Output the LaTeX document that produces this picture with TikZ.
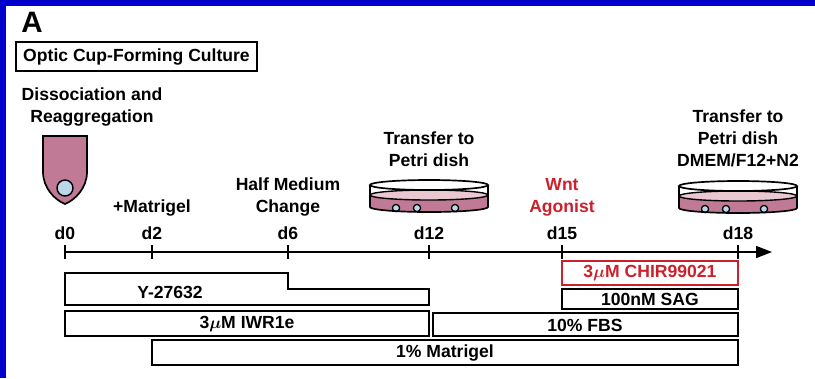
\documentclass[tikz,border=0pt]{standalone}
\usepackage{fontspec}
\setmainfont{Liberation Sans}
\usetikzlibrary{arrows.meta,positioning}
\definecolor{frameblue}{RGB}{0,0,204}
\definecolor{tissue}{RGB}{192,122,150}
\definecolor{medium}{RGB}{234,200,210}
\definecolor{cellblue}{RGB}{188,214,234}
\definecolor{wntred}{RGB}{204,32,44}

\tikzset{
  lbl/.style={font=\fontsize{12.5}{15.6}\selectfont\bfseries\boldmath, align=center, inner sep=0pt},
  bar/.style={draw, line width=1.3pt},
  dish/.pic={
    % side of the medium, then its surface
    \fill[tissue] (-59,10) -- (-59,22) arc[start angle=180, end angle=0, x radius=59, y radius=5] -- (59,10) -- cycle;
    \draw[line width=1pt, fill=medium] (0,10) ellipse (59 and 5);
    % cells resting on the bottom
    \foreach \cx in {-33,-12,26} \draw[line width=0.9pt, fill=cellblue] (\cx,23) circle (3.6);
    % wall and rim
    \draw[line width=1.2pt] (-59,0) -- (-59,22) arc[start angle=180, end angle=0, x radius=59, y radius=5] -- (59,0);
    \draw[line width=1.2pt] (0,0) ellipse (59 and 5);
  }
}

\begin{document}
\begin{tikzpicture}[x=0.025cm, y=-0.025cm]
\useasboundingbox (0,0) rectangle (815,378);
\fill[white] (0,0) rectangle (815,378);
\fill[frameblue] (0,0) rectangle (815,6);
\fill[frameblue] (0,0) rectangle (6,378);

\node[font=\fontsize{21}{24}\selectfont\bfseries, inner sep=0pt] (panel) at (32,22) {A};
\node[lbl, draw, line width=1.3pt, minimum width=6.02cm, minimum height=0.72cm] (title) at (136.5,56.5) {Optic Cup-Forming Culture};

% events above the time line
\node[lbl] (dissoc) at (92,107) {Dissociation and\\Reaggregation};
\node[lbl] (matri) at (152,208) {+Matrigel};
\node[lbl] (halfmed) at (288,197) {Half Medium\\Change};
\node[lbl] (move12) at (429,149) {Transfer to\\Petri dish};
\node[lbl, text=wntred] (wnt) at (562,197.5) {Wnt\\Agonist};
\node[lbl] (move18) at (738,138.5) {Transfer to\\Petri dish\\DMEM/F12+N2};

% reaggregation tube
\draw[line width=1.2pt, fill=tissue] (43,136) -- (43,172) .. controls (43,188) and (55,200) .. (65,204)
  .. controls (75,200) and (87,188) .. (87,172) -- (87,136) -- cycle;
\draw[line width=1pt, fill=cellblue] (65,188) circle (8);

\pic at (429,185) {dish};
\pic at (738,186) {dish};

% time line
\coordinate (tstart) at (65,252);
\coordinate (tend) at (772,252);
\draw[line width=1.2pt, -{Triangle[length=0.4cm, width=0.3cm]}] (tstart) -- (tend);
\foreach \d/\x in {0/65,2/152,6/288,12/429,15/562,18/738} {
  \draw[line width=1.2pt] (\x,245) -- (\x,259);
  \node[lbl] (d\d) at (\x,233) {d\d};
}

% treatment bars
\draw[bar] (65,273) -- (288,273) -- (288,289) -- (429,289) -- (429,305) -- (65,305) -- cycle;
\node[lbl] (rock) at (170,292) {Y-27632};
\draw[bar] (65,311) rectangle (429,336);
\node[lbl] (iwr) at (247,324) {3$\mu$M IWR1e};
\draw[bar] (433,313) rectangle (738,336);
\node[lbl] (fbs) at (585,325) {10\% FBS};
\draw[bar] (152,340) rectangle (738,365);
\node[lbl] (matrigel) at (445,353) {1\% Matrigel};
\draw[bar] (562,289) rectangle (738,309);
\node[lbl] (sag) at (650,299) {100nM SAG};
\draw[bar, draw=wntred] (562,261) rectangle (738,285);
\node[lbl, text=wntred] (chir) at (650,273) {3$\mu$M CHIR99021};
\end{tikzpicture}
\end{document}
